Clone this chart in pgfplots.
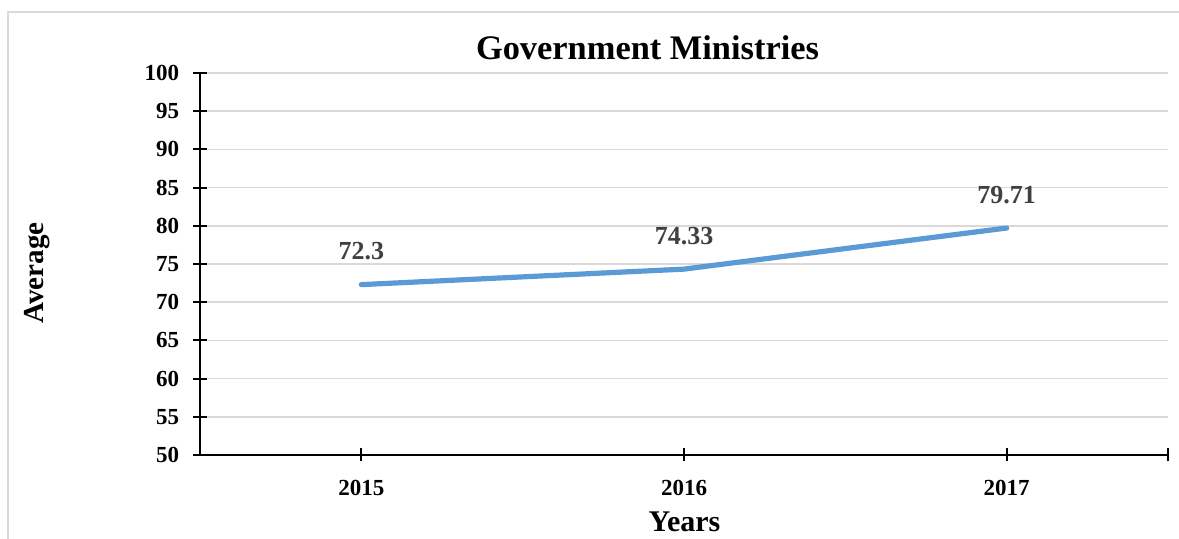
\documentclass[border=0pt]{standalone}
\usepackage{fontspec}
\setmainfont{Liberation Serif}
\usepackage{pgfplots}
\pgfplotsset{compat=1.18}
\definecolor{linecol}{HTML}{5B9BD5}
\definecolor{gridcol}{HTML}{D9D9D9}
\definecolor{labcol}{HTML}{404040}
\begin{document}
\begin{tikzpicture}
\useasboundingbox (0,0) rectangle (589.5pt,-269.5pt);
\draw[gridcol, line width=0.6pt] (4pt,-269.5pt) -- (4pt,-6pt) -- (589.5pt,-6pt);
\begin{axis}[
  at={(100pt,-227.5pt)}, anchor=south west,
  width=484pt, height=191pt, scale only axis,
  xmin=-0.5, xmax=2.5, ymin=50, ymax=100,
  xtick={0,1,2}, xticklabels={2015,2016,2017},
  extra x ticks={2.5}, extra x tick labels={}, extra x tick style={grid=none},
  ytick={50,55,...,100},
  ymajorgrids, grid style={gridcol, line width=0.8pt},
  axis x line=bottom, axis y line=left,
  axis line style={-, black, line width=1pt},
  tick style={black, line width=1pt}, tick align=center, major tick length=6.5pt,
  /pgf/number format/assume math mode=true,
  ticklabel style={font=\fontsize{11.5}{13}\selectfont\bfseries, inner sep=0pt},
  yticklabel style={anchor=east, xshift=-7pt},
  xticklabel style={anchor=north, yshift=-9pt},
]
\addplot[linecol, line width=2.6pt, line cap=round, line join=round, mark=none,
  nodes near coords, point meta=explicit symbolic,
  every node near coord/.append style={font=\fontsize{13}{15}\selectfont\bfseries, text=labcol, inner sep=0pt, anchor=south, yshift=11pt}]
  coordinates {(0,72.3)[72.3] (1,74.33)[74.33] (2,79.71)[79.71]};
\end{axis}
\node[anchor=base, font=\fontsize{17.2}{20}\selectfont\bfseries] at (323.75pt,-30pt) {Government Ministries};
\node[anchor=base, font=\fontsize{15}{17}\selectfont\bfseries] at (342.25pt,-266pt) {Years};
\node[anchor=base, rotate=90, font=\fontsize{14.5}{17}\selectfont\bfseries] at (21.5pt,-136.5pt) {Average};
\end{tikzpicture}
\end{document}
